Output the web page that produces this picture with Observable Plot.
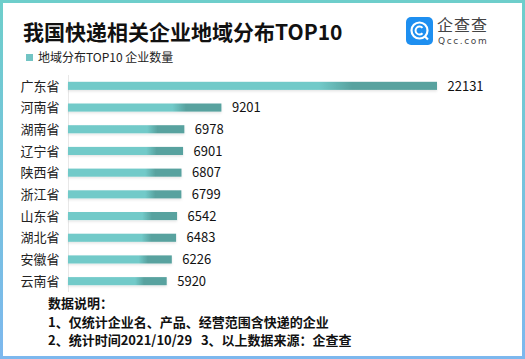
<!DOCTYPE html>
<html><head><meta charset="utf-8">
<script src="https://cdn.jsdelivr.net/npm/d3@7"></script>
<script src="https://cdn.jsdelivr.net/npm/@observablehq/plot@0.6"></script>
<style>
html,body{margin:0;padding:0;background:#fff;}
body{width:525px;height:359px;position:relative;overflow:hidden;font-family:"Noto Sans CJK SC","Noto Sans",sans-serif;}
#frame{position:absolute;left:0;top:0;width:525px;height:359px;box-sizing:border-box;border:3px solid;border-image:linear-gradient(to bottom,#6ECECB,#7DB8EE) 1;}
#title{position:absolute;left:23px;top:17px;font-size:21px;font-weight:bold;color:#111;white-space:nowrap;line-height:28px;}
#legend{position:absolute;left:26px;top:48px;font-size:12px;color:#222;white-space:nowrap;line-height:18px;}
#legend i{display:inline-block;width:7px;height:7px;background:#72C4C4;margin-right:5px;vertical-align:1px;}
#logo{position:absolute;left:406px;top:17px;}
#logo .sq{position:absolute;left:0;top:0;width:27px;height:28px;border-radius:5px;background:#1E8FF0;}
#logo .t1{position:absolute;left:31px;top:-1px;font-size:16px;line-height:17px;color:#444;white-space:nowrap;letter-spacing:1px;}
#logo .t2{position:absolute;left:32px;top:19px;font-size:9px;line-height:10px;color:#444;white-space:nowrap;letter-spacing:1.6px;font-family:"DejaVu Sans",sans-serif;}
#chart{position:absolute;left:0;top:72px;}
#note{position:absolute;left:48px;top:294px;font-size:13px;font-weight:bold;color:#111;line-height:18.5px;white-space:pre;}
</style></head>
<body>
<div id="frame"></div>
<div id="title">我国快递相关企业地域分布TOP10</div>
<div id="legend"><i></i>地域分布TOP10 企业数量</div>
<div id="logo"><div class="sq"><svg width="27" height="28" viewBox="0 0 27 28"><circle cx="13.5" cy="13.5" r="8" fill="none" stroke="#fff" stroke-width="2.2"/><path d="M16.5 10.8 A4 4 0 1 0 16.5 16.2" fill="none" stroke="#fff" stroke-width="2"/><path d="M18.5 19 L22 22.5" stroke="#fff" stroke-width="2.2"/></svg></div><div class="t1">企查查</div><div class="t2">Qcc.com</div></div>
<div id="chart"></div>
<div id="note">数据说明：
1、仅统计企业名、产品、经营范围含快递的企业
2、统计时间2021/10/29   3、以上数据来源：企查查</div>
<script>
const provinces = ["广东省","河南省","湖南省","辽宁省","陕西省","浙江省","山东省","湖北省","安徽省","云南省"];
const counts = [22131,9201,6978,6901,6807,6799,6542,6483,6226,5920];
const data = provinces.map((p,i)=>({province:p,count:counts[i]}));

const chart = Plot.plot({
  width: 525,
  height: 224,
  marginTop: 3,
  marginBottom: 4,
  marginLeft: 68,
  marginRight: 0,
  style: {fontFamily: '"Noto Sans CJK SC","Noto Sans",sans-serif', fontSize: "13px", color: "#222", background: "transparent"},
  x: {domain: [0, 22131], range: [68, 437], axis: null},
  y: {domain: provinces, axis: "left", padding: 0, round: false, tickSize: 0, tickPadding: 9, label: null},
  marks: [
    Plot.ruleX([0], {stroke: "#e8e8e8", strokeWidth: 1}),
    Plot.barX(data, {y: "province", x: "count", fill: "url(#barGrad)", insetTop: 6.8, insetBottom: 6.8}),
    Plot.text(data, {y: "province", x: "count", text: d => String(d.count), dx: 10, textAnchor: "start", fill: "#111", fontSize: 13})
  ]
});
const defs = d3.select(chart).insert("defs", ":first-child");
const g = defs.append("linearGradient").attr("id","barGrad").attr("x1","0").attr("x2","1").attr("y1","0").attr("y2","0");
[[0,"#72CAC9"],[0.68,"#72CAC9"],[0.77,"#58A29F"],[1,"#58A29F"]].forEach(([o,c])=>g.append("stop").attr("offset",o).attr("stop-color",c));
const f = defs.append("filter").attr("id","sh").attr("x","-5%").attr("y","-50%").attr("width","110%").attr("height","220%");
f.append("feDropShadow").attr("dx",0).attr("dy",1.5).attr("stdDeviation",1.2).attr("flood-color","#000").attr("flood-opacity",0.1);
d3.select(chart).selectAll("rect").attr("filter","url(#sh)");
d3.select(chart).selectAll("g[aria-label='y-axis tick label'] text, g[aria-label='y-axis'] text").attr("fill","#222");
document.getElementById("chart").appendChild(chart);
</script>
</body></html>
